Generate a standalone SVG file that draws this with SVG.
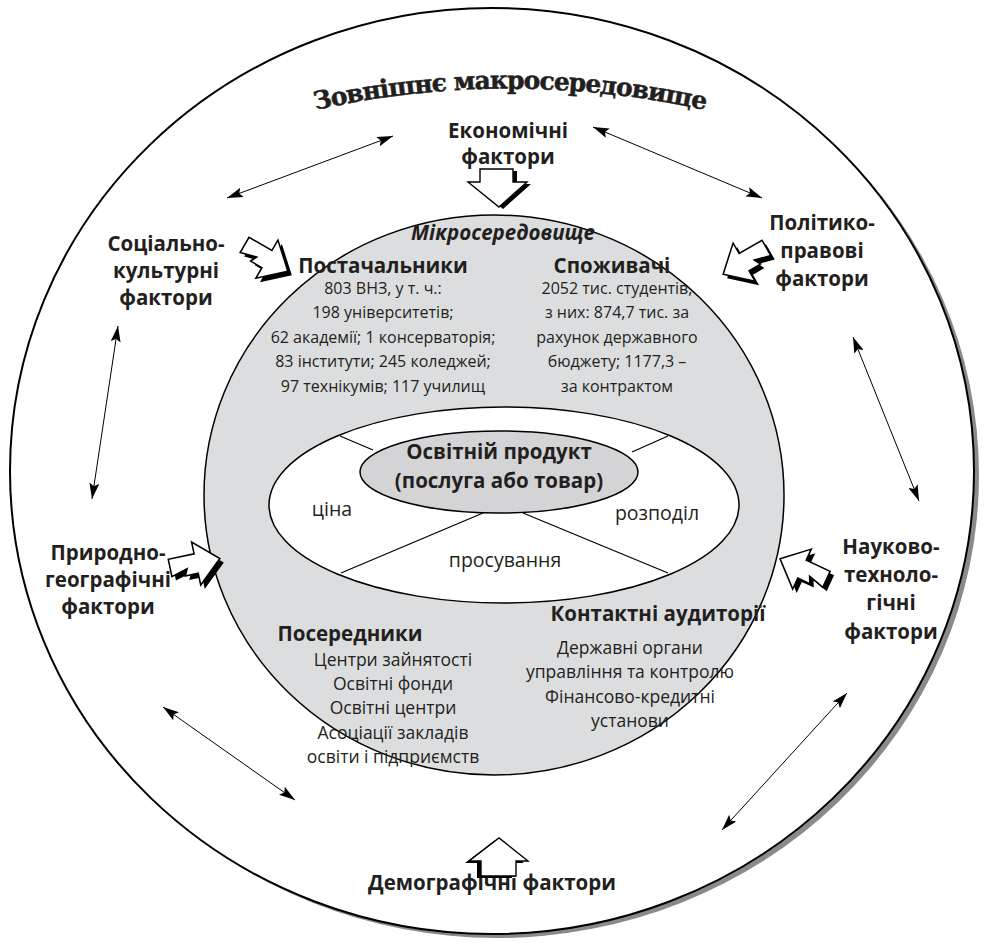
<svg xmlns="http://www.w3.org/2000/svg" width="985" height="943" viewBox="0 0 985 943">
<defs>
<style>
.h{font-family:"Open Sans","Noto Sans",sans-serif;font-weight:700;font-size:20.5px;fill:#231f20;text-anchor:middle}
.t{font-family:"Open Sans","Noto Sans",sans-serif;font-size:16px;fill:#231f20;text-anchor:middle}
.b{font-family:"Open Sans","Noto Sans",sans-serif;font-size:17.5px;fill:#231f20;text-anchor:middle}
.m{font-family:"Open Sans","Noto Sans",sans-serif;font-size:19.5px;fill:#231f20;text-anchor:middle}
.title{font-family:"DejaVu Serif",serif;font-weight:700;font-size:25px;letter-spacing:-1px;fill:#231f20;stroke:#231f20;stroke-width:0.5}
.ln{stroke:#000;stroke-width:1.3;fill:none}
.dbl{stroke:#000;stroke-width:1;fill:none;marker-start:url(#ah);marker-end:url(#ah)}
.blk{fill:#fff;stroke:#000;stroke-width:1.4;stroke-linejoin:miter}
.sh{fill:#000}
</style>
<marker id="ah" viewBox="0 0 16 10" refX="16" refY="5" markerWidth="16" markerHeight="10" markerUnits="userSpaceOnUse" orient="auto-start-reverse"><path d="M0,0 L16,5 L0,10 L3,5 Z" fill="#000"/></marker>
<path id="jag" d="M24,0 L2,20 L2,9 L-10,9 L-7,3 L-22,7 L-22,-9 L2,-9 L2,-20 Z"/>
<path id="down" d="M480,169 H513 V182 H527 L499,207 L468,182 H480 Z"/>
<path id="up" d="M481,876 V861 H469 L499,838 L528,861 H516 V876 Z"/>
<path id="arc" d="M 290 116 A 900 900 0 0 1 730 116"/>
</defs>

<g id="outer">
<ellipse cx="497" cy="475" rx="482" ry="463" fill="#8a8a8a"/>
<ellipse cx="492" cy="471" rx="482" ry="463" fill="#fff" stroke="#000" stroke-width="2"/>
</g>

<g id="micro">
<ellipse cx="494" cy="495" rx="290" ry="280" fill="#dcdddf" stroke="#000" stroke-width="1.5"/>
</g>

<g id="mix">
<ellipse cx="504" cy="505" rx="235" ry="98" fill="#fff" stroke="#000" stroke-width="1.5"/>
<path class="ln" d="M340,436 L373,450 M632,452 L668,436 M483,513 L341,573 M523,513 L668,573"/>
<text class="m" x="332" y="516">ціна</text>
<text class="m" x="657" y="520">розподіл</text>
<text class="m" x="505" y="567">просування</text>
</g>

<g id="product">
<ellipse cx="499" cy="472" rx="139" ry="41" fill="#d4d4d6" stroke="#000" stroke-width="1.5"/>
<text class="h" x="499" y="459" font-size="20">Освітній продукт</text>
<text class="h" x="499" y="488" font-size="20">(послуга або товар)</text>
</g>

<g id="title">
<text class="title"><textPath href="#arc" startOffset="50%" text-anchor="middle">Зовнішнє макросередовище</textPath></text>
</g>

<g id="micro-label">
<text class="h" x="503" y="240" font-style="italic" font-size="20">Мікросередовище</text>
</g>

<g id="suppliers">
<text class="h" x="383" y="273">Постачальники</text>
<text class="t" x="383" y="294">803 ВНЗ, у т. ч.:</text>
<text class="t" x="383" y="318">198 університетів;</text>
<text class="t" x="383" y="343">62 академії; 1 консерваторія;</text>
<text class="t" x="383" y="367">83 інститути; 245 коледжей;</text>
<text class="t" x="383" y="392">97 технікумів; 117 училищ</text>
</g>

<g id="consumers">
<text class="h" x="612" y="273">Споживачі</text>
<text class="t" x="617" y="294">2052 тис. студентів,</text>
<text class="t" x="617" y="318">з них: 874,7 тис. за</text>
<text class="t" x="617" y="343">рахунок державного</text>
<text class="t" x="617" y="367">бюджету; 1177,3 –</text>
<text class="t" x="617" y="392">за контрактом</text>
</g>

<g id="intermediaries">
<text class="h" x="350" y="641">Посередники</text>
<text class="b" x="393" y="666">Центри зайнятості</text>
<text class="b" x="393" y="690">Освітні фонди</text>
<text class="b" x="393" y="714">Освітні центри</text>
<text class="b" x="393" y="739">Асоціації закладів</text>
<text class="b" x="393" y="763">освіти і підприємств</text>
</g>

<g id="audiences">
<text class="h" x="658" y="621">Контактні аудиторії</text>
<text class="b" x="630" y="654">Державні органи</text>
<text class="b" x="630" y="678">управління та контролю</text>
<text class="b" x="630" y="703">Фінансово-кредитні</text>
<text class="b" x="630" y="727">установи</text>
</g>

<g id="economic">
<text class="h" x="508" y="138" font-size="19">Економічні</text>
<text class="h" x="508" y="164" font-size="19">фактори</text>
<use href="#down" class="sh" transform="translate(4,2)"/>
<use href="#down" class="blk"/>
</g>

<g id="social">
<text class="h" x="166" y="251">Соціально-</text>
<text class="h" x="166" y="278">культурні</text>
<text class="h" x="166" y="305">фактори</text>
<use href="#jag" class="sh" transform="translate(269,262) rotate(30) scale(1.1)"/>
<use href="#jag" class="blk" transform="translate(265,258) rotate(30) scale(1.1)"/>
</g>

<g id="political">
<text class="h" x="822" y="230">Політико-</text>
<text class="h" x="822" y="258">правові</text>
<text class="h" x="822" y="286">фактори</text>
<use href="#jag" class="sh" transform="translate(750,265) rotate(150) scale(1.1,-1.1)"/>
<use href="#jag" class="blk" transform="translate(746,261) rotate(150) scale(1.1,-1.1)"/>
</g>

<g id="natural">
<text class="h" x="108" y="560">Природно-</text>
<text class="h" x="108" y="587">географічні</text>
<text class="h" x="108" y="614">фактори</text>
<use href="#jag" class="sh" transform="translate(198,568) rotate(-12) scale(1.1)"/>
<use href="#jag" class="blk" transform="translate(194,564) rotate(-12) scale(1.1)"/>
</g>

<g id="scientific">
<text class="h" x="891" y="554">Науково-</text>
<text class="h" x="891" y="582">техноло-</text>
<text class="h" x="891" y="610">гічні</text>
<text class="h" x="891" y="639">фактори</text>
<use href="#jag" class="sh" transform="translate(808,574) rotate(205) scale(1.1,-1.1)"/>
<use href="#jag" class="blk" transform="translate(804,570) rotate(205) scale(1.1,-1.1)"/>
</g>

<g id="demographic">
<text class="h" x="492" y="890" font-size="19.5">Демографічні фактори</text>
<use href="#up" class="sh" transform="translate(-4,2)"/>
<use href="#up" class="blk"/>
</g>

<g id="connectors">
<path class="dbl" d="M227,198 L393,136"/>
<path class="dbl" d="M593,127 L762,198"/>
<path class="dbl" d="M118,326 L92,499"/>
<path class="dbl" d="M853,337 L919,501"/>
<path class="dbl" d="M847,693 L722,830"/>
<path class="dbl" d="M163,707 L295,800"/>
</g>
</svg>
